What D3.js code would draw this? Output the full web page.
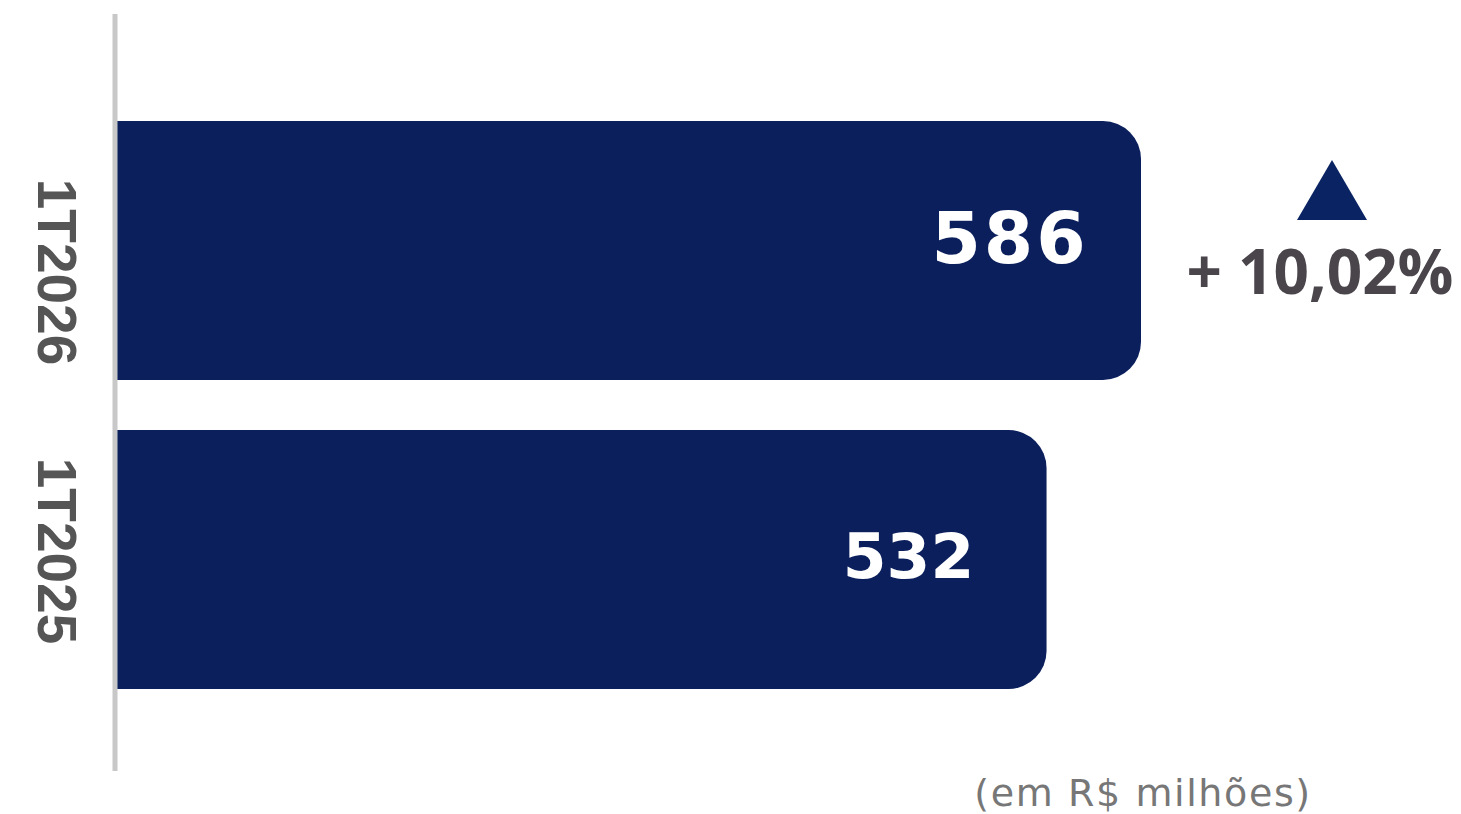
<!DOCTYPE html>
<html>
<head>
<meta charset="utf-8">
<script src="https://cdn.jsdelivr.net/npm/d3@7"></script>
<style>
  body { margin: 0; background: #fff; }
  svg { display: block; }
</style>
</head>
<body>
<div id="chart"></div>
<script>
// dados
const categories = ['1T2026', '1T2025'];
const values = [586, 532];
const valueLabels = ['586', '532'];
const changeLabel = '+ 10,02%';
const unitLabel = '(em R$ milhões)';

// svg
const svgWidth = 1461;
const svgHeight = 814;
const svg = d3.select('#chart')
  .append('svg')
  .attr('width', svgWidth)
  .attr('height', svgHeight);

// scales
const xScale = d3.scaleLinear().domain([0, 586]).range([116, 1141]);
const yScale = d3.scaleBand()
  .domain(categories)
  .range([96, 714])
  .paddingInner(0.162)
  .paddingOuter(0.081);
// posição dos rótulos das categorias
const labelScale = d3.scalePoint().domain(categories).range([272, 551]);

const barColor = '#0a1f5c';
const radius = 38;

// estilo dos rótulos de valor (o mais recente é maior)
const valueStyle = [
  { size: 71, spacing: 3, dx: -131, dy: 12 },
  { size: 63, spacing: 0, dx: -138, dy: 18 }
];

// barra com cantos arredondados só à direita
function barPath(x0, x1, y0, h) {
  const r = Math.min(radius, (x1 - x0) / 2, h / 2);
  return `M${x0},${y0}H${x1 - r}A${r},${r} 0 0 1 ${x1},${y0 + r}` +
    `V${y0 + h - r}A${r},${r} 0 0 1 ${x1 - r},${y0 + h}H${x0}Z`;
}

const data = categories.map((c, i) => ({ cat: c, value: values[i], label: valueLabels[i], style: valueStyle[i] }));

svg.selectAll('path.bar')
  .data(data)
  .enter()
  .append('path')
  .attr('class', 'bar')
  .attr('d', d => barPath(xScale(0), xScale(d.value), yScale(d.cat), yScale.bandwidth()))
  .attr('fill', barColor);

// eixo vertical
svg.append('line')
  .attr('x1', 115).attr('x2', 115)
  .attr('y1', 14).attr('y2', 771)
  .attr('stroke', '#c8c8c8')
  .attr('stroke-width', 5);

// rótulos das categorias (rotacionados)
svg.selectAll('text.cat')
  .data(data)
  .enter()
  .append('text')
  .attr('class', 'cat')
  .attr('transform', d => `translate(38,${labelScale(d.cat)}) rotate(90)`)
  .attr('text-anchor', 'middle')
  .attr('font-family', 'Liberation Sans, Arial, sans-serif')
  .attr('font-weight', 700)
  .attr('font-size', 55)
  .attr('fill', '#555555')
  .text(d => d.cat);

// valores
svg.selectAll('text.val')
  .data(data)
  .enter()
  .append('text')
  .attr('class', 'val')
  .attr('x', d => xScale(d.value) + d.style.dx)
  .attr('y', d => yScale(d.cat) + yScale.bandwidth() / 2 + d.style.dy)
  .attr('text-anchor', 'middle')
  .attr('font-family', 'DejaVu Sans, sans-serif')
  .attr('font-weight', 700)
  .attr('font-size', d => d.style.size)
  .attr('letter-spacing', d => d.style.spacing)
  .attr('fill', '#ffffff')
  .text(d => d.label);

// variação
svg.append('path')
  .attr('d', 'M1332,160L1367,220L1297,220Z')
  .attr('fill', '#0a2463');

svg.append('text')
  .attr('x', 1320)
  .attr('y', 294)
  .attr('text-anchor', 'middle')
  .attr('font-family', 'Open Sans, sans-serif')
  .attr('font-weight', 700)
  .attr('font-size', 62)
  .attr('fill', '#4a454b')
  .text(changeLabel);

// unidade
svg.append('text')
  .attr('x', 1143)
  .attr('y', 806)
  .attr('text-anchor', 'middle')
  .attr('font-family', 'DejaVu Sans, sans-serif')
  .attr('font-size', 38)
  .attr('letter-spacing', 1.6)
  .attr('fill', '#777777')
  .text(unitLabel);
</script>
</body>
</html>
